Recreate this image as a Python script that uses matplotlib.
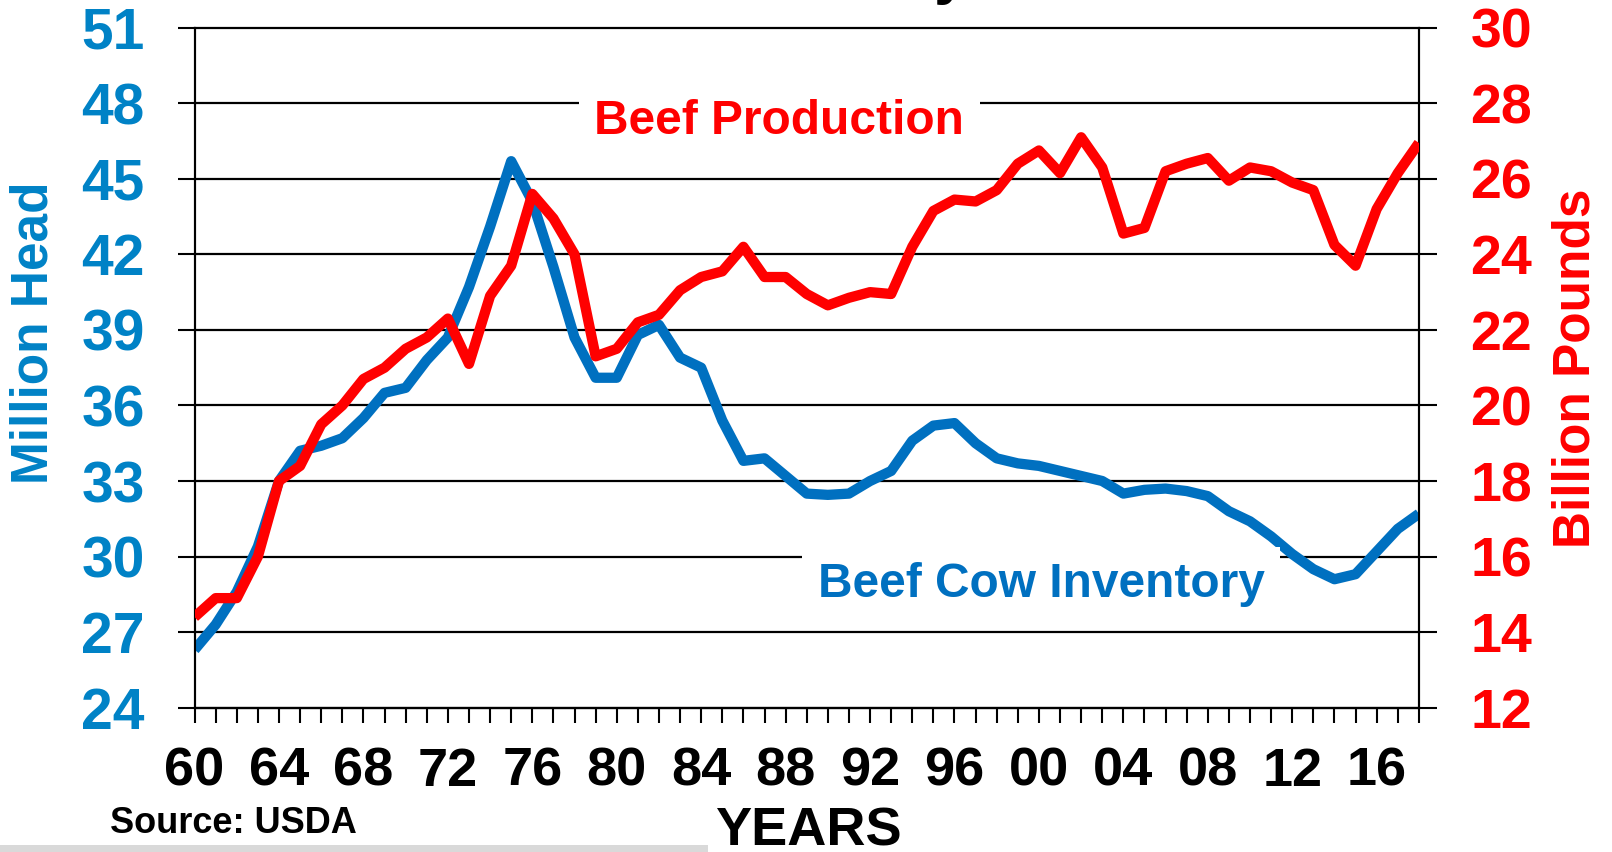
import matplotlib
matplotlib.use("Agg")
import matplotlib.pyplot as plt
from matplotlib.ticker import MultipleLocator, FixedLocator, FixedFormatter
from matplotlib.patches import Rectangle

plt.rcParams['font.family'] = ['Liberation Sans', 'DejaVu Sans']
plt.rcParams['font.weight'] = 'bold'

# ---- data -------------------------------------------------------------
years = list(range(1960, 2019))

cow_inventory = [
    26.3, 27.3, 28.6, 30.4, 33.0, 34.2, 34.4, 34.7, 35.5, 36.5,   # 1960-69
    36.7, 37.8, 38.7, 40.7, 43.1, 45.7, 44.1, 41.5, 38.7, 37.1,   # 1970-79
    37.1, 38.8, 39.2, 37.9, 37.5, 35.4, 33.8, 33.9, 33.2, 32.5,   # 1980-89
    32.45, 32.5, 33.0, 33.4, 34.6, 35.2, 35.3, 34.5, 33.9, 33.7,  # 1990-99
    33.6, 33.4, 33.2, 33.0, 32.5, 32.65, 32.7, 32.6, 32.4, 31.8,  # 2000-09
    31.4, 30.8, 30.1, 29.5, 29.1, 29.3, 30.2, 31.1, 31.7,         # 2010-18
]

beef_production = [
    14.4, 14.9, 14.9, 16.0, 18.0, 18.4, 19.5, 20.0, 20.7, 21.0,   # 1960-69
    21.5, 21.8, 22.3, 21.1, 22.9, 23.7, 25.6, 24.95, 24.0, 21.3,  # 1970-79
    21.5, 22.2, 22.4, 23.05, 23.4, 23.55, 24.2, 23.4, 23.4, 22.95,  # 1980-89
    22.65, 22.85, 23.0, 22.95, 24.2, 25.15, 25.45, 25.4, 25.7, 26.4,  # 1990-99
    26.75, 26.15, 27.1, 26.3, 24.55, 24.7, 26.2, 26.4, 26.55, 25.95,  # 2000-09
    26.3, 26.2, 25.9, 25.7, 24.25, 23.7, 25.2, 26.15, 26.95,          # 2010-18
]

left_ticks = [24, 27, 30, 33, 36, 39, 42, 45, 48, 51]
right_ticks = [12, 14, 16, 18, 20, 22, 24, 26, 28, 30]
xtick_years = list(range(1960, 2017, 4))
xtick_labels = [f"{y % 100:02d}" for y in xtick_years]

series_cow_label = "Beef Cow Inventory"
series_prod_label = "Beef Production"
left_axis_label = "Million Head"
right_axis_label = "Billion Pounds"
x_axis_label = "YEARS"
source_text = "Source: USDA"

# ---- styling ----------------------------------------------------------
BLUE_LINE = '#0070C0'
BLUE_TEXT = '#0082C6'
RED = '#FF0000'

fig = plt.figure(figsize=(16.12, 8.52), dpi=100)
ax = fig.add_axes([0.1207, 0.1694, 0.7595, 0.7981])
ax2 = ax.twinx()

ax.set_xlim(1960, 2018)
ax.set_ylim(24, 51)
ax2.set_ylim(12, 30)

# gridlines (black) at left ticks
ax.set_yticks(left_ticks)
ax2.set_yticks(right_ticks)
ax.grid(axis='y', color='black', linewidth=1.6, zorder=0)
ax.grid(axis='x', visible=False)
for g in ax.get_ygridlines():
    g.set_clip_on(False)

# x ticks
ax.xaxis.set_major_locator(FixedLocator(xtick_years))
ax.xaxis.set_major_formatter(FixedFormatter(xtick_labels))
ax.xaxis.set_minor_locator(MultipleLocator(1))
ax.tick_params(axis='x', which='both', direction='out', length=11, width=1.5,
               color='black', pad=17, labelsize=39, labelcolor='black')
ax.tick_params(axis='y', which='major', direction='out', length=12, width=1.5,
               color='black', pad=24, labelsize=41, labelcolor=BLUE_TEXT)
ax2.tick_params(axis='y', which='major', direction='out', length=13, width=1.5,
                color='black', pad=24, labelsize=40, labelcolor=RED)
for lab in ax.get_xticklabels() + ax.get_yticklabels() + ax2.get_yticklabels():
    lab.set_fontweight('bold')

for a in (ax, ax2):
    a.spines['top'].set_visible(False)
    for s in ('left', 'right', 'bottom'):
        a.spines[s].set_linewidth(1.5)
        a.spines[s].set_color('black')

# data lines
ax.plot(years, cow_inventory, color=BLUE_LINE, linewidth=7.4,
        solid_joinstyle='round', solid_capstyle='butt', zorder=3)
ax2.plot(years, beef_production, color=RED, linewidth=7.4,
         solid_joinstyle='round', solid_capstyle='butt', zorder=3)

# series labels with white boxes covering gridlines
ax.text(1987.7, 46.78, series_prod_label, color=RED, fontsize=34.5,
        fontweight='bold', ha='center', va='baseline', zorder=4,
        bbox=dict(facecolor='white', edgecolor='none', pad=11))
ax.text(2000.1, 28.4, series_cow_label, color=BLUE_LINE, fontsize=34.5,
        fontweight='bold', ha='center', va='baseline', zorder=4,
        bbox=dict(facecolor='white', edgecolor='none', pad=11))

# axis titles
fig.text(34 / 1612, 1 - 333 / 852, left_axis_label, rotation=90, color=BLUE_TEXT,
         fontsize=37, fontweight='bold', ha='center', va='center')
fig.text(1576 / 1612, 1 - 368 / 852, right_axis_label, rotation=90, color=RED,
         fontsize=37, fontweight='bold', ha='center', va='center')
fig.text(808 / 1612, 1 - 845 / 852, x_axis_label, color='black',
         fontsize=39, fontweight='bold', ha='center', va='baseline')
fig.text(110 / 1612, 1 - 833 / 852, source_text, color='black',
         fontsize=26, fontweight='bold', ha='left', va='baseline')

# partially visible title above the frame (only a descender shows)
fig.text(968 / 1612, 1 + 8 / 852, "Beef Cow Inventory", color='black',
         fontsize=44, fontweight='bold', ha='right', va='baseline')

# light grey bar at bottom-left
fig.patches.append(Rectangle((0, 0), 708 / 1612, 7 / 852, transform=fig.transFigure,
                             facecolor='#D9D9D9', edgecolor='none', zorder=0))

fig.savefig('out.png', dpi=100, facecolor='white')
